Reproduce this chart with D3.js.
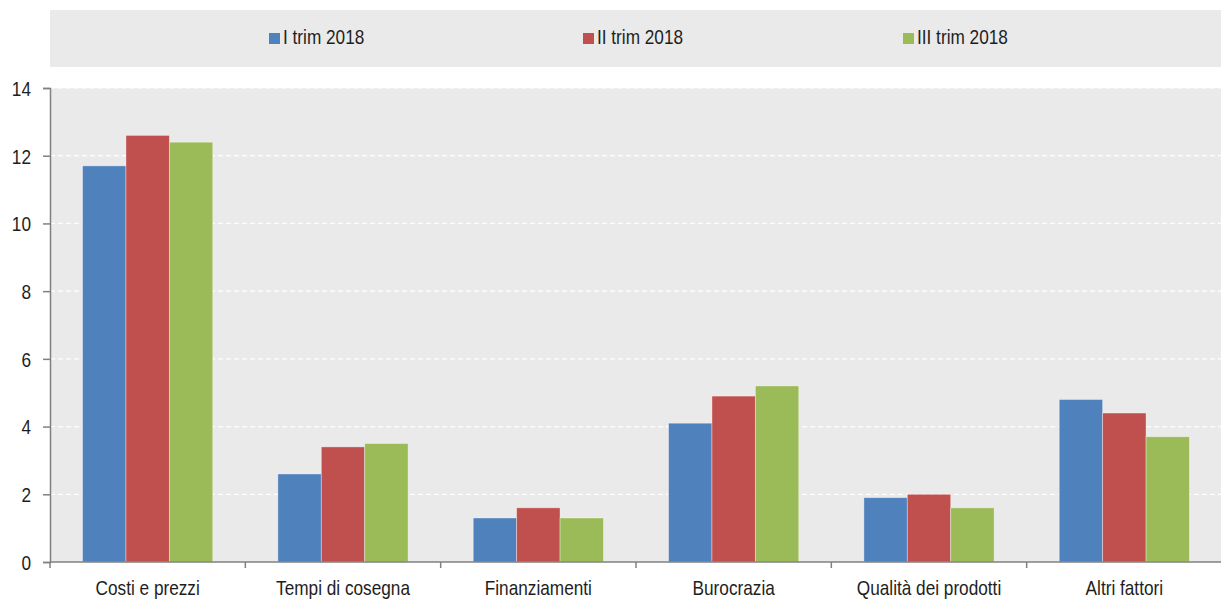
<!DOCTYPE html>
<html>
<head>
<meta charset="utf-8">
<script src="https://cdn.jsdelivr.net/npm/d3@7"></script>
<style>
  body { margin:0; background:#fff; }
  text { font-family:"Liberation Sans",Arial,sans-serif; font-size:21px; fill:#1e1e1e; }
</style>
</head>
<body>
<div id="chart"></div>
<script>
var svgW = 1221,
    svgH = 600,
    narrow = 0.82; // Arial Narrow look: squeeze Liberation Sans horizontally

// data
var categories = ['Costi e prezzi','Tempi di cosegna','Finanziamenti','Burocrazia','Qualità dei prodotti','Altri fattori'];
var seriesNames = ['I trim 2018','II trim 2018','III trim 2018'];
var trim1 = [11.7, 2.6, 1.3, 4.1, 1.9, 4.8];
var trim2 = [12.6, 3.4, 1.6, 4.9, 2.0, 4.4];
var trim3 = [12.4, 3.5, 1.3, 5.2, 1.6, 3.7];
var yTicks = [0, 2, 4, 6, 8, 10, 12, 14];

var colors = ['#4f81bd', '#c0504d', '#9bbb59'];
var series = [trim1, trim2, trim3];

var plot = {l:50, r:1222, t:88, b:562};

var svg = d3.select('#chart').append('svg')
  .attr('width', svgW)
  .attr('height', svgH);

// legend box
svg.append('rect')
  .attr('x', 50).attr('y', 10)
  .attr('width', svgW - 50).attr('height', 57)
  .style('fill', '#eaeaea');

var legendX = [269, 583, 903];
var leg = svg.append('g').selectAll('g')
  .data(seriesNames)
  .enter().append('g')
    .attr('transform', function(d, i){ return 'translate(' + legendX[i] + ',33)'; });
leg.append('rect')
  .attr('width', 11).attr('height', 11)
  .style('fill', function(d, i){ return colors[i]; });
leg.append('text')
  .attr('transform', 'translate(14,11) scale(' + narrow + ',1)')
  .text(function(d){ return d; });

// plot background
svg.append('rect')
  .attr('x', plot.l).attr('y', plot.t)
  .attr('width', plot.r - plot.l).attr('height', plot.b - plot.t)
  .style('fill', '#eaeaea');

var x = d3.scaleBand()
  .domain(categories)
  .range([plot.l, plot.r])
  .paddingInner(1/3)
  .paddingOuter(1/6);

var xSub = d3.scaleBand()
  .domain(d3.range(series.length))
  .range([0, x.bandwidth()]);

var y = d3.scaleLinear()
  .domain([0, 14])
  .range([plot.b, plot.t]);

// gridlines
svg.append('g').selectAll('line')
  .data(yTicks.filter(function(d){ return d > 0; }))
  .enter().append('line')
    .attr('x1', plot.l).attr('x2', plot.r)
    .attr('y1', function(d){ return y(d); })
    .attr('y2', function(d){ return y(d); })
    .style('stroke', '#ffffff')
    .style('stroke-width', 1.2)
    .style('stroke-dasharray', '5,3');

// bars
var groups = svg.append('g').selectAll('g')
  .data(series)
  .enter().append('g')
    .style('fill', function(d, i){ return colors[i]; });

groups.selectAll('rect')
  .data(function(d, i){ return d.map(function(v, j){ return {v:v, c:categories[j], s:i}; }); })
  .enter().append('rect')
    .attr('x', function(d){ return x(d.c) + xSub(d.s); })
    .attr('y', function(d){ return y(d.v); })
    .attr('width', xSub.bandwidth())
    .attr('height', function(d){ return y(0) - y(d.v); })
    .style('stroke', 'rgba(255,255,255,0.45)')
    .style('stroke-width', 0.8);

// y axis
var yAxis = svg.append('g')
  .attr('transform', 'translate(' + plot.l + ',0)')
  .call(d3.axisLeft(y).tickValues(yTicks).tickSize(7).tickFormat(d3.format('d')));
yAxis.select('.domain').style('stroke', '#808080').style('stroke-width', 1.5);
yAxis.selectAll('.tick line').style('stroke', '#808080').style('stroke-width', 1.5);
yAxis.selectAll('.tick text')
  .attr('font-size', null)
  .attr('font-family', null)
  .attr('fill', null)
  .attr('x', -19 / narrow)
  .attr('dy', '0.35em')
  .attr('transform', 'scale(' + narrow + ',1)');
yAxis.attr('font-size', null).attr('font-family', null);

// x axis
var xAxis = svg.append('g')
  .attr('transform', 'translate(0,' + plot.b + ')');
xAxis.append('line')
  .attr('x1', plot.l).attr('x2', plot.r)
  .style('stroke', '#808080').style('stroke-width', 1.5);
var step = x.step();
xAxis.selectAll('.xtick')
  .data(d3.range(categories.length + 1))
  .enter().append('line')
    .attr('x1', function(i){ return plot.l + i * step; })
    .attr('x2', function(i){ return plot.l + i * step; })
    .attr('y1', 0).attr('y2', 6)
    .style('stroke', '#808080').style('stroke-width', 1.5);
xAxis.selectAll('text')
  .data(categories)
  .enter().append('text')
    .attr('transform', function(d){ return 'translate(' + (x(d) + x.bandwidth() / 2) + ',33) scale(' + narrow + ',1)'; })
    .attr('text-anchor', 'middle')
    .text(function(d){ return d; });
</script>
</body>
</html>
